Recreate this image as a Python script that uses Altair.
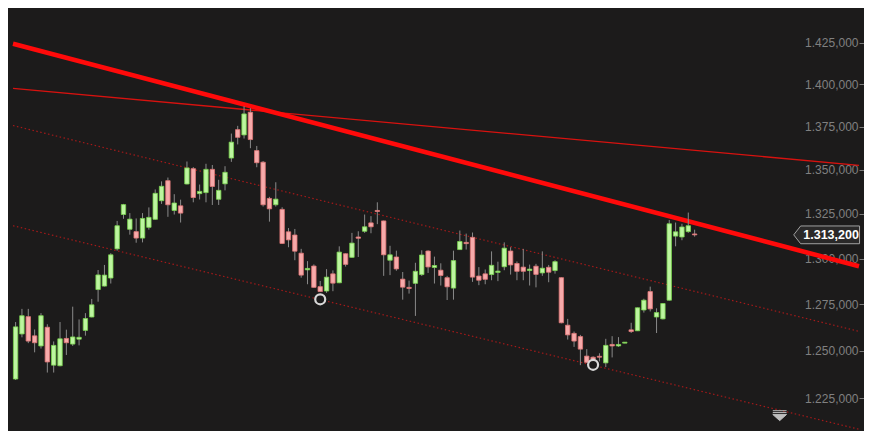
import altair as alt
import pandas as pd

# ---- candle data (price, log scale) ----
opens = [1235.1, 1259.0, 1268.3, 1258.0, 1252.6, 1262.6, 1242.4, 1242.1, 1256.6, 1253.6,
         1256.2, 1260.9, 1268.1, 1283.0, 1284.9, 1289.3, 1305.4, 1324.6, 1316.3, 1315.0,
         1311.4, 1317.4, 1321.9, 1332.4, 1343.8, 1326.9, 1329.5, 1341.9, 1350.7, 1336.4,
         1337.0, 1350.3, 1333.2, 1342.0, 1356.8, 1373.3, 1370.2, 1383.5, 1361.1, 1354.4,
         1333.7, 1330.1, 1327.5, 1314.9, 1313.1, 1303.0, 1293.8, 1295.9, 1284.6, 1282.2,
         1291.6, 1286.7, 1302.7, 1300.7, 1312.0, 1315.2, 1319.9, 1326.9, 1321.0, 1299.1,
         1300.9, 1288.7, 1284.2, 1286.4, 1291.2, 1304.2, 1295.1, 1293.6, 1289.5, 1283.8,
         1305.0, 1309.0, 1311.8, 1290.4, 1291.6, 1291.2, 1292.4, 1295.5, 1304.2, 1297.3,
         1295.3, 1293.4, 1295.8, 1292.1, 1295.2, 1293.4, 1289.5, 1263.7, 1259.3, 1257.6,
         1247.2, 1246.6, 1247.1, 1243.6, 1253.4, 1252.6, 1254.1, 1261.2, 1260.7, 1271.9,
         1281.9, 1268.1, 1267.1, 1277.2, 1312.5, 1312.0, 1315.0, 1313.7]
highs = [1265.4, 1272.5, 1272.5, 1261.4, 1270.2, 1264.2, 1255.0, 1265.4, 1261.3, 1273.7,
         1266.8, 1270.2, 1277.9, 1293.7, 1296.5, 1303.0, 1321.0, 1330.6, 1325.4, 1322.4,
         1325.4, 1328.6, 1338.8, 1343.4, 1345.6, 1336.1, 1333.0, 1354.8, 1351.6, 1341.6,
         1353.5, 1352.8, 1344.3, 1352.1, 1371.0, 1375.5, 1387.0, 1385.9, 1363.8, 1355.1,
         1334.6, 1342.9, 1328.7, 1317.0, 1316.5, 1305.4, 1298.6, 1296.8, 1287.7, 1294.2,
         1293.5, 1306.8, 1302.9, 1314.3, 1315.2, 1324.6, 1323.7, 1331.5, 1321.2, 1307.1,
         1304.4, 1292.6, 1287.9, 1297.7, 1304.6, 1304.6, 1301.1, 1297.4, 1290.5, 1304.4,
         1315.6, 1313.9, 1314.5, 1295.3, 1294.0, 1304.0, 1298.3, 1309.0, 1306.3, 1298.4,
         1305.4, 1296.7, 1297.1, 1304.0, 1296.5, 1299.1, 1289.7, 1267.1, 1260.3, 1258.5,
         1250.9, 1247.1, 1248.7, 1256.4, 1257.8, 1257.3, 1254.7, 1265.0, 1273.2, 1278.0,
         1284.6, 1272.8, 1275.5, 1321.5, 1320.1, 1319.4, 1325.7, 1316.1]
lows = [1234.6, 1257.2, 1254.1, 1249.2, 1251.2, 1238.5, 1238.5, 1241.8, 1247.8, 1252.6,
        1252.9, 1258.1, 1267.9, 1276.4, 1284.7, 1286.3, 1304.4, 1322.2, 1313.3, 1308.8,
        1309.0, 1316.1, 1321.7, 1330.6, 1323.3, 1324.6, 1320.1, 1341.7, 1331.5, 1333.1,
        1331.5, 1330.0, 1330.0, 1338.3, 1354.6, 1364.7, 1368.1, 1362.5, 1351.5, 1329.1,
        1320.6, 1329.1, 1308.1, 1306.3, 1299.1, 1289.5, 1285.9, 1284.0, 1281.7, 1281.2,
        1282.1, 1286.5, 1295.6, 1300.4, 1300.9, 1314.3, 1314.1, 1319.2, 1290.5, 1290.9,
        1293.3, 1277.5, 1280.8, 1268.7, 1290.4, 1292.1, 1286.3, 1285.2, 1277.3, 1277.5,
        1304.8, 1305.0, 1287.2, 1285.4, 1285.9, 1288.1, 1287.6, 1293.6, 1291.2, 1288.1,
        1288.1, 1285.2, 1284.2, 1290.5, 1287.0, 1291.7, 1264.7, 1256.0, 1252.1, 1242.4,
        1243.6, 1243.8, 1244.4, 1241.4, 1246.5, 1252.1, 1254.0, 1259.5, 1260.6, 1270.5,
        1271.1, 1259.5, 1266.8, 1277.0, 1306.8, 1310.2, 1314.3, 1312.2]
closes = [1262.8, 1268.8, 1255.2, 1254.3, 1268.8, 1244.1, 1252.9, 1256.4, 1254.3, 1257.4,
          1257.2, 1267.3, 1274.7, 1291.0, 1290.9, 1302.1, 1318.3, 1330.2, 1322.0, 1311.4,
          1322.4, 1323.0, 1336.6, 1340.6, 1330.1, 1331.1, 1325.4, 1351.1, 1334.2, 1337.7,
          1350.3, 1340.5, 1338.3, 1348.6, 1366.0, 1368.8, 1382.5, 1367.5, 1354.1, 1330.1,
          1327.8, 1333.3, 1308.4, 1310.4, 1304.1, 1290.9, 1294.6, 1284.2, 1281.9, 1289.8,
          1286.5, 1303.6, 1296.8, 1308.6, 1311.3, 1317.7, 1317.7, 1326.3, 1302.1, 1302.1,
          1294.3, 1284.3, 1283.6, 1293.0, 1302.0, 1295.4, 1296.2, 1290.7, 1284.5, 1298.9,
          1309.5, 1308.3, 1289.8, 1288.1, 1288.6, 1296.3, 1293.1, 1305.8, 1296.5, 1293.0,
          1293.0, 1294.2, 1291.3, 1294.7, 1292.5, 1298.3, 1265.0, 1258.5, 1255.2, 1250.9,
          1243.9, 1245.5, 1246.6, 1252.9, 1252.6, 1253.4, 1254.6, 1260.3, 1273.1, 1277.2,
          1272.5, 1270.5, 1275.4, 1319.4, 1314.9, 1317.6, 1318.3, 1313.2]

# ---- trend lines (start / end price across the full width) ----
line_names = ["thick", "thin", "upper", "lower"]
line_start = [1424.4, 1397.6, 1375.7, 1318.3]
line_end = [1295.8, 1352.6, 1260.4, 1209.0]

# ---- marked lows ----
circle_idx = [48, 91]
circle_price = [1277.7, 1242.6]

# ---- last price tag ----
last_price = 1313.2
last_label = "1.313,200"

y_ticks = [1225, 1250, 1275, 1300, 1325, 1350, 1375, 1400, 1425]

X_MIN, X_MAX = -0.41, 132.9
Y_MIN, Y_MAX = 1208.1, 1446.2
W, H = 856, 423
BG = "#1c1b1b"

df = pd.DataFrame({"i": list(range(len(opens))), "open": opens, "high": highs,
                   "low": lows, "close": closes})
df["dir"] = ["up" if c >= o else "down" for o, c in zip(opens, closes)]

xs = alt.Scale(domain=[X_MIN, X_MAX], nice=False, zero=False)
ys = alt.Scale(type="log", domain=[Y_MIN, Y_MAX], nice=False, zero=False)

lbl = ("replace(replace(replace(format(datum.value, ',.3f'), ',', '_'), '.', ','), '_', '.')")

yaxis = alt.Axis(orient="left", offset=-W, values=y_ticks, labelExpr=lbl, tickSize=5,
                 tickColor="#7a7a7a", labelColor="#808080", labelFontSize=12,
                 labelFont="Liberation Sans", labelPadding=1, domain=False, grid=False,
                 title=None, labelOverlap=False)


def X(field="i:Q"):
    return alt.X(field, scale=xs, axis=None)


def Y(field):
    return alt.Y(field, scale=ys, title=None)


lines_df = pd.DataFrame({
    "name": [n for n in line_names for _ in range(2)],
    "i": [X_MIN, X_MAX] * len(line_names),
    "p": [v for s, e in zip(line_start, line_end) for v in (s, e)],
})


def line_layer(name, **kw):
    return alt.Chart(lines_df).transform_filter(alt.datum.name == name).mark_line(**kw).encode(
        x=X(), y=Y("p:Q"),
    )


axis_layer = alt.Chart(pd.DataFrame({"t": y_ticks})).mark_point(opacity=0).encode(
    y=alt.Y("t:Q", scale=ys, axis=yaxis),
    x=alt.value(0),
)

upper = line_layer("upper", color="#a31a1a", strokeWidth=1.2, strokeDash=[1.5, 2.5])
lower = line_layer("lower", color="#a31a1a", strokeWidth=1.2, strokeDash=[1.5, 2.5])
thin = line_layer("thin", color="#d8120f", strokeWidth=1.3)
thick = line_layer("thick", color="#ff0a0a", strokeWidth=4.6)

wicks = alt.Chart(df).mark_rule(color="#8a8a8a", strokeWidth=1).encode(
    x=X(), y=Y("high:Q"), y2="low:Q",
)
bodies = alt.Chart(df).mark_bar(size=4.4, strokeWidth=0.8).encode(
    x=X(), y=Y("open:Q"), y2="close:Q",
    fill=alt.Fill("dir:N", scale=alt.Scale(domain=["up", "down"], range=["#bdf5a0", "#f7aaaa"]), legend=None),
    stroke=alt.Stroke("dir:N", scale=alt.Scale(domain=["up", "down"], range=["#79d44e", "#e07676"]), legend=None),
)

circles = alt.Chart(pd.DataFrame({"i": circle_idx, "p": circle_price})).mark_point(
    shape="circle", size=100, filled=False, fill=BG, fillOpacity=1, stroke="#d8d8d8",
    strokeWidth=2.2, opacity=1
).encode(x=X(), y=Y("p:Q"))

tag_path = "M-1,0 L-0.79,-0.27 L1,-0.27 L1,0.27 L-0.79,0.27 Z"
tag = alt.Chart(pd.DataFrame({"i": [127.8], "p": [last_price]})).mark_point(
    shape=tag_path, size=4330, filled=True, fill="#2a2929", fillOpacity=1,
    stroke="#a0a0a0", strokeWidth=1, opacity=1
).encode(x=X(), y=Y("p:Q"))
tag_text = alt.Chart(pd.DataFrame({"i": [128.5], "p": [last_price], "t": [last_label]})).mark_text(
    color="#ffffff", fontSize=12.5, fontWeight="bold", font="Liberation Sans",
    align="center", baseline="middle", dy=0.5
).encode(x=X(), y=Y("p:Q"), text="t:N")

icon_path = "M-1,-0.72 L1,-0.72 M-1,-0.45 L1,-0.45 M-1,-0.18 L1,-0.18 L0,0.72 Z"
icon = alt.Chart(pd.DataFrame({"i": [120.4], "p": [1216.0]})).mark_point(
    shape=icon_path, size=190, filled=True, fill="#bdbdbd", stroke="#bdbdbd",
    strokeWidth=1, opacity=1
).encode(x=X(), y=Y("p:Q"))

chart = alt.layer(
    axis_layer, upper, lower, thin, thick, wicks, bodies, circles, tag, tag_text, icon
).properties(
    width=W, height=H, background=BG, padding=0,
    autosize=alt.AutoSizeParams(type="none"),
).configure_view(stroke=None, fill=BG)

chart.save("out.html", embed_options={"renderer": "svg", "actions": False})
